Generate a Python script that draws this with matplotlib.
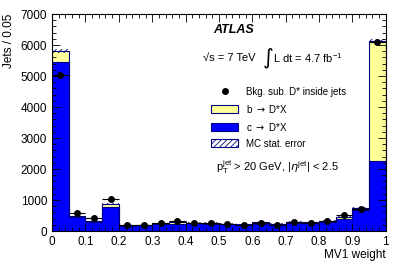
import matplotlib
matplotlib.use("Agg")
import matplotlib.pyplot as plt
import numpy as np
from matplotlib.patches import Patch
from matplotlib.lines import Line2D
from matplotlib.ticker import MultipleLocator

plt.rcParams['font.family'] = ['Liberation Sans', 'DejaVu Sans']
plt.rcParams['hatch.linewidth'] = 0.6

bin_edges = [round(0.05 * i, 2) for i in range(21)]
c_vals = [5460, 440, 290, 790, 170, 180, 230, 230, 250, 240, 215, 205, 240, 215, 260, 250, 280, 400, 680, 2270]
b_vals = [345, 30, 20, 90, 10, 10, 20, 60, 20, 20, 15, 15, 40, 15, 30, 30, 50, 60, 70, 3860]
mc_err = [60, 25, 20, 40, 15, 15, 15, 25, 15, 15, 15, 15, 20, 15, 20, 20, 20, 25, 35, 60]
data_vals = [5050, 570, 420, 1020, 180, 190, 250, 330, 260, 250, 220, 210, 250, 210, 300, 260, 330, 505, 710, 6100]

edges = np.array(bin_edges)
c = np.array(c_vals)
b = np.array(b_vals)
tot = c + b
err = np.array(mc_err)
centers = 0.5 * (edges[:-1] + edges[1:])

blue = '#0000ff'
yellow = '#ffff99'
navy = '#000080'

fig = plt.figure(figsize=(4.07, 2.76), dpi=100)
ax = fig.add_axes([0.128, 0.163, 0.82, 0.786])

ax.stairs(tot, edges, baseline=0, fill=True, color=yellow, lw=0)
ax.stairs(c, edges, baseline=0, fill=True, color=blue, lw=0)
ax.stairs(c, edges, baseline=0, color=navy, lw=0.8)
ax.stairs(tot, edges, baseline=0, color=navy, lw=0.8)
ax.stairs(tot + err, edges, baseline=tot - err, fill=True, facecolor='none',
          edgecolor=navy, hatch='//////', lw=0)

ax.errorbar(centers, data_vals, xerr=0.025, fmt='o', color='black', ms=4,
            elinewidth=0.8, capsize=0)

ax.set_xlim(0, 1)
ax.set_ylim(0, 7000)
ax.xaxis.set_major_locator(MultipleLocator(0.1))
ax.xaxis.set_minor_locator(MultipleLocator(0.02))
ax.yaxis.set_major_locator(MultipleLocator(1000))
ax.yaxis.set_minor_locator(MultipleLocator(200))
ax.tick_params(which='both', direction='in', top=True, right=True, labelsize=8.5, width=0.6)
ax.tick_params(which='major', length=6)
ax.tick_params(which='minor', length=3)
ax.set_xticks(np.arange(0, 1.01, 0.1))
ax.set_xticklabels(['0', '0.1', '0.2', '0.3', '0.4', '0.5', '0.6', '0.7', '0.8', '0.9', '1'])
for s in ax.spines.values():
    s.set_linewidth(0.8)

ax.set_xlabel('MV1 weight', fontsize=8.5, loc='right', labelpad=1)
ax.set_ylabel('Jets / 0.05', fontsize=8.5, loc='top', labelpad=4)

ax.text(0.482, 0.926, 'ATLAS', transform=ax.transAxes, fontsize=9, fontweight='bold',
        fontstyle='italic', va='center')
ax.text(0.452, 0.797, '\u221as = 7 TeV', transform=ax.transAxes, fontsize=8,
        va='center')
ax.text(0.632, 0.797, '\u222b', transform=ax.transAxes, fontsize=15, va='center',
        family=['DejaVu Sans'])
ax.text(0.662, 0.797, r'L dt = 4.7 fb$^{\mathregular{-1}}$', transform=ax.transAxes, fontsize=8,
        va='center')
ax.text(0.49, 0.295, r'p$_{\mathregular{T}}^{\mathregular{jet}}$ > 20 GeV, |$\eta^{\mathregular{jet}}$| < 2.5',
        transform=ax.transAxes, fontsize=8, va='center')

handles = [
    Line2D([], [], marker='o', color='black', ls='none', ms=4),
    Patch(facecolor=yellow, edgecolor=navy, lw=0.8),
    Patch(facecolor=blue, edgecolor=navy, lw=0.8),
    Patch(facecolor='white', edgecolor=navy, hatch='//////', lw=0.8),
]
labels = ['Bkg. sub. D* inside jets', r'b $\rightarrow$ D*X', r'c $\rightarrow$ D*X', 'MC stat. error']
ax.legend(handles, labels, loc='upper left', bbox_to_anchor=(0.47, 0.675), frameon=False,
          fontsize=7, handlelength=2.8, handleheight=0.9, labelspacing=0.62,
          handletextpad=0.8, borderpad=0.2, borderaxespad=0)

fig.savefig('out.png', dpi=100)
